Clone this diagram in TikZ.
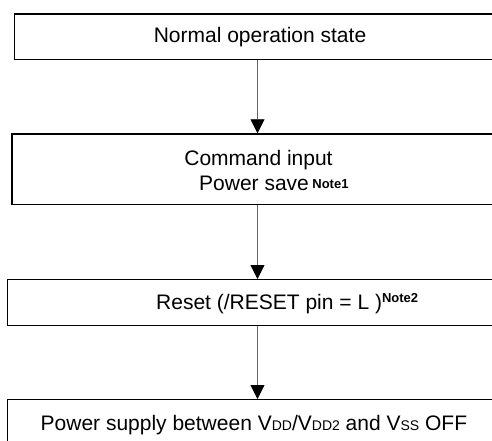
\documentclass[tikz,border=0pt]{standalone}
\usepackage{fontspec}
\setmainfont{Liberation Sans}
\usetikzlibrary{arrows.meta}

\newcommand{\notefont}{\fontsize{13}{13}\selectfont\bfseries}
\newcommand{\subfont}{\fontsize{14}{14}\selectfont}

\begin{document}
\begin{tikzpicture}[x=1pt, y=-1pt,
    stepbox/.style={draw, line width=1.4pt, anchor=north west, inner sep=0pt},
    boxtext/.style={inner sep=0pt, font=\fontsize{21}{25.7}\selectfont},
    flow/.style={draw=black!60, line width=0.8pt, -{Triangle[width=14pt, length=14pt, color=black, fill=black]}}]
        \useasboundingbox (0,0) rectangle (492,441);
        \clip (0,0) rectangle (492,441);
        \coordinate (spine) at (257.5,0);
        % boxes run past the right edge
        \foreach \name/\x/\top/\bottom in {box1/14/13.3/58.7, box2/11.3/133.3/204, box3/7/279/325, box4/7/399/470}{
            \node[stepbox, minimum width={520-\x}, minimum height={\bottom-\top}] (\name) at (\x,\top) {};
        }
        \foreach \a/\b in {box1/box2, box2/box3, box3/box4}{
            \draw[flow] (\a.south -| spine) -- (\b.north -| spine);
        }
        \node[boxtext, anchor=base] (normal) at (260,42.7) {Normal operation state};
        \node[boxtext, anchor=base] (command) at (258.5,165) {Command input};
        \node[boxtext, anchor=base west] (save) at (199,190.7) {Power save\,\raisebox{2pt}{\notefont Note1}};
        \node[boxtext, anchor=base west] (reset) at (156,309) {Reset (/RESET pin = L )\raisebox{7pt}{\notefont Note2}};
        \node[boxtext, anchor=base west] (supply) at (40.5,430) {Power supply between V{\subfont DD}/V{\subfont DD2} and V{\subfont SS} OFF};
    \end{tikzpicture}
\end{document}
